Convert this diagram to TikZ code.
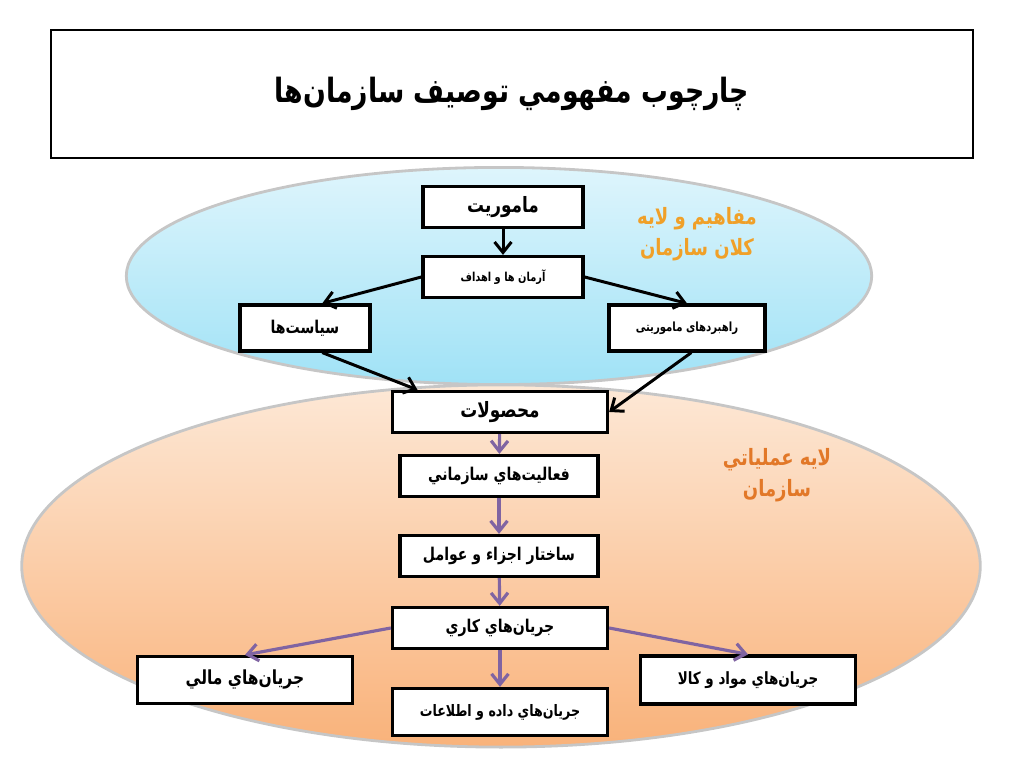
\documentclass[tikz,border=0pt]{standalone}
\usepackage{fontspec}
\usetikzlibrary{arrows.meta,shapes.geometric}
\TeXXeTstate=1
\newfontfamily\arabicfont[Script=Arabic,FakeStretch=0.8]{DejaVu Sans}
\newcommand{\fa}[1]{{\arabicfont\bfseries\beginR #1\endR}}
\definecolor{skytop}{RGB}{222,245,252}
\definecolor{skybot}{RGB}{160,226,246}
\definecolor{peachtop}{RGB}{253,232,214}
\definecolor{peachbot}{RGB}{249,178,122}
\definecolor{flowpurple}{RGB}{128,100,162}
\definecolor{macroorange}{RGB}{240,160,40}
\definecolor{operorange}{RGB}{226,120,40}

\begin{document}
\begin{tikzpicture}[
  x=0.01cm, y=-0.01cm,
  every node/.style={inner sep=0pt},
  box/.style={draw, line width=0.9pt, fill=white, minimum height=0.41cm,
              font=\fontsize{5}{6}\selectfont},
  layer/.style={draw=gray!45, line width=0.8pt, ellipse},
  blk/.style={-{Straight Barb[length=3pt,width=4.8pt]}, line width=0.85pt},
  prp/.style={-{Straight Barb[length=3pt,width=4.8pt]}, line width=0.9pt, draw=flowpurple},
  tag/.style={align=center, font=\fontsize{6.4}{8.8}\selectfont}
]
\useasboundingbox (0,0) rectangle (1024,768);

\node[box, line width=0.5pt, minimum width=9.22cm, minimum height=1.28cm,
      font=\fontsize{9.5}{11}\selectfont] (title) at (512,94)
      {\fa{چارچوب مفهومي توصيف سازمان‌ها}};

\node[layer, minimum width=9.58cm, minimum height=3.62cm,
      top color=peachtop, bottom color=peachbot] (oper) at (501,566) {};
\node[layer, minimum width=7.45cm, minimum height=2.17cm,
      top color=skytop, bottom color=skybot] (macro) at (499,276) {};

\node[tag, text=macroorange] (macrotag) at (697,234)
      {\fa{مفاهیم و لایه}\\ \fa{کلان سازمان}};
\node[tag, text=operorange] (opertag) at (777,475)
      {\fa{لایه عملیاتي}\\ \fa{سازمان}};

\node[box, minimum width=1.6cm, font=\fontsize{6}{7}\selectfont] (mission) at (503,207) {\fa{ماموریت}};
\node[box, minimum width=1.6cm, font=\fontsize{3.5}{4}\selectfont] (goals) at (503,277) {\fa{آرمان ها و اهداف}};
\node[box, minimum width=1.3cm, minimum height=0.46cm] (policy) at (305,328) {\fa{سیاست‌ها}};
\node[box, minimum width=1.56cm, minimum height=0.46cm, font=\fontsize{3.6}{4}\selectfont] (strategy) at (687,328) {\fa{راهبردهای ماموریتی}};
\node[box, minimum width=2.15cm, font=\fontsize{6}{7}\selectfont] (product) at (500,412) {\fa{محصولات}};
\node[box, minimum width=1.98cm] (activity) at (499,476) {\fa{فعالیت‌هاي سازماني}};
\node[box, minimum width=1.98cm] (structure) at (499,556) {\fa{ساختار اجزاء و عوامل}};
\node[box, minimum width=2.15cm] (workflow) at (500,628) {\fa{جریان‌هاي کاري}};
\node[box, minimum width=2.15cm, minimum height=0.47cm, font=\fontsize{5.5}{6}\selectfont] (finance) at (245,680) {\fa{جریان‌هاي مالي}};
\node[box, minimum width=2.15cm, minimum height=0.47cm, font=\fontsize{4.5}{5}\selectfont] (data) at (500,712) {\fa{جریان‌هاي داده و اطلاعات}};
\node[box, minimum width=2.15cm, minimum height=0.48cm, font=\fontsize{4.8}{5}\selectfont] (goods) at (748,680) {\fa{جریان‌هاي مواد و کالا}};

\draw[blk] (mission) -- (goals);
\draw[blk] (goals.west) -- (policy.55);
\draw[blk] (goals.east) -- (strategy.north);
\draw[blk] (policy.-55) -- (product.165);
\draw[blk] (strategy.-80) -- (product.east);

\draw[prp] (product) -- (activity);
\draw[prp] (activity) -- (structure);
\draw[prp] (structure) -- (workflow);
\draw[prp] (workflow.west) -- (finance.north);
\draw[prp] (workflow.east) -- (goods.north);
\draw[prp] (workflow) -- (data);
\end{tikzpicture}
\end{document}
